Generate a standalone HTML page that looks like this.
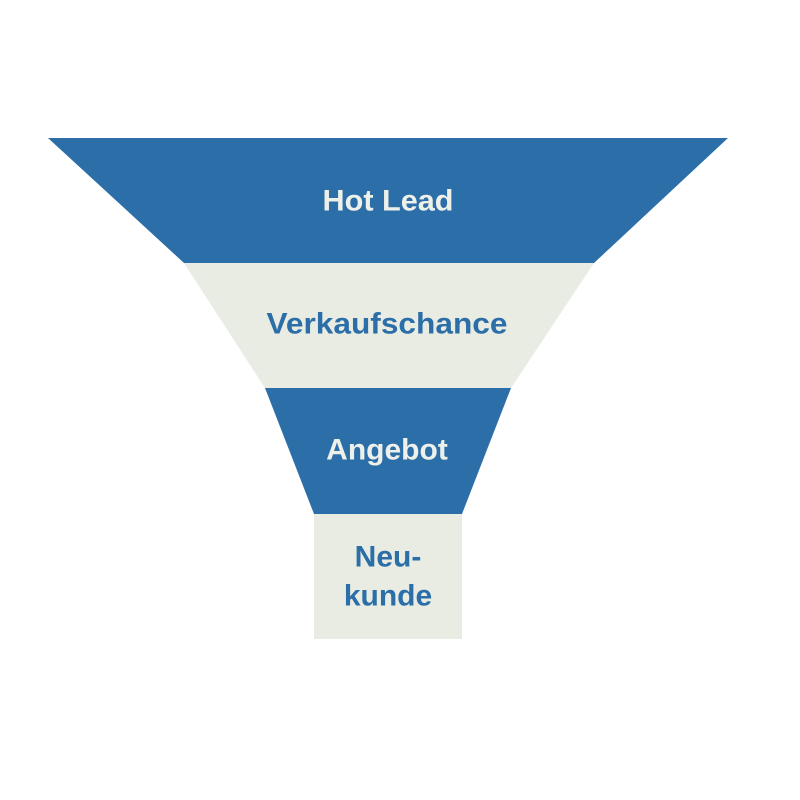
<!DOCTYPE html>
<html><head><meta charset="utf-8"><style>
html,body{margin:0;padding:0;background:#fff;}
svg{display:block;}
text{font-family:"Liberation Sans",sans-serif;font-weight:bold;font-size:30px;text-anchor:middle;dominant-baseline:central;}
</style></head><body>
<svg width="800" height="800" viewBox="0 0 800 800">
<rect width="800" height="800" fill="#fff"/>
<polygon points="48,138 728,138 594,263 184,263" fill="#2b6ea8"/>
<polygon points="184,263 594,263 511,388 265,388" fill="#e8ece3"/>
<polygon points="265,388 511,388 462,514 314,514" fill="#2b6ea8"/>
<rect x="314" y="514" width="148" height="125" fill="#e8ece3"/>
<text x="388" y="201" fill="#eef0ea" textLength="131" lengthAdjust="spacingAndGlyphs">Hot Lead</text>
<text x="387" y="324" fill="#2b6ea8" textLength="241" lengthAdjust="spacingAndGlyphs">Verkaufschance</text>
<text x="387" y="450" fill="#eef0ea">Angebot</text>
<text x="388" y="557" fill="#2b6ea8">Neu-</text>
<text x="388" y="596" fill="#2b6ea8">kunde</text>
</svg>
</body></html>
